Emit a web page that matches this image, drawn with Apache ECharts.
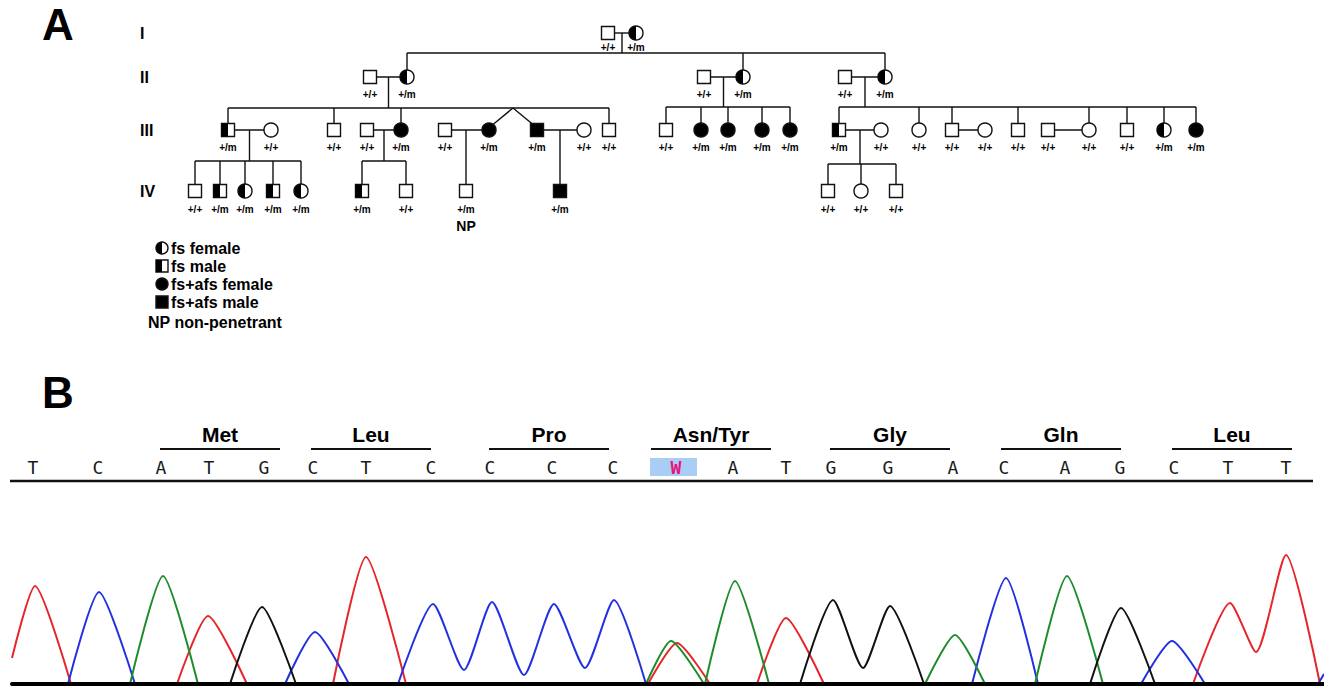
<!DOCTYPE html>
<html><head><meta charset="utf-8">
<script src="https://cdn.jsdelivr.net/npm/echarts@6/dist/echarts.min.js"></script>
<style>html,body{margin:0;padding:0;background:#fff}#c{width:1324px;height:687px}</style>
</head><body><div id="c"></div>
<script>
// ================= Panel A : pedigree =================
const generations = ['I', 'II', 'III', 'IV'];
// id, generation index, sex, status (n = unaffected, fs, afs = fs+afs), genotype
const individuals = [
  ['I-1',0,'M','n','+/+'], ['I-2',0,'F','fs','+/m'],
  ['II-1',1,'M','n','+/+'], ['II-2',1,'F','fs','+/m'],
  ['II-3',1,'M','n','+/+'], ['II-4',1,'F','fs','+/m'],
  ['II-5',1,'M','n','+/+'], ['II-6',1,'F','fs','+/m'],
  ['III-1',2,'M','fs','+/m'], ['III-2',2,'F','n','+/+'], ['III-3',2,'M','n','+/+'],
  ['III-4',2,'M','n','+/+'], ['III-5',2,'F','afs','+/m'], ['III-6',2,'M','n','+/+'],
  ['III-7',2,'F','afs','+/m'], ['III-8',2,'M','afs','+/m'], ['III-9',2,'F','n','+/+'],
  ['III-10',2,'M','n','+/+'], ['III-11',2,'M','n','+/+'], ['III-12',2,'F','afs','+/m'],
  ['III-13',2,'F','afs','+/m'], ['III-14',2,'F','afs','+/m'], ['III-15',2,'F','afs','+/m'],
  ['III-16',2,'M','fs','+/m'], ['III-17',2,'F','n','+/+'], ['III-18',2,'F','n','+/+'],
  ['III-19',2,'M','n','+/+'], ['III-20',2,'F','n','+/+'], ['III-21',2,'M','n','+/+'],
  ['III-22',2,'M','n','+/+'], ['III-23',2,'F','n','+/+'], ['III-24',2,'M','n','+/+'],
  ['III-25',2,'F','fs','+/m'], ['III-26',2,'F','afs','+/m'],
  ['IV-1',3,'M','n','+/+'], ['IV-2',3,'M','fs','+/m'], ['IV-3',3,'F','fs','+/m'],
  ['IV-4',3,'M','fs','+/m'], ['IV-5',3,'F','fs','+/m'], ['IV-6',3,'M','fs','+/m'],
  ['IV-7',3,'M','n','+/+'], ['IV-8',3,'M','n','+/m'], ['IV-9',3,'M','afs','+/m'],
  ['IV-10',3,'M','n','+/+'], ['IV-11',3,'F','n','+/+'], ['IV-12',3,'M','n','+/+']
];
const families = [
  { parents: ['I-1','I-2'], children: ['II-2','II-4','II-6'] },
  { parents: ['II-1','II-2'], children: ['III-1','III-3','III-5','III-7','III-8','III-10'] },
  { parents: ['II-3','II-4'], children: ['III-11','III-12','III-13','III-14','III-15'] },
  { parents: ['II-5','II-6'], children: ['III-16','III-18','III-19','III-21','III-23','III-24','III-25','III-26'] },
  { parents: ['III-1','III-2'], children: ['IV-1','IV-2','IV-3','IV-4','IV-5'] },
  { parents: ['III-4','III-5'], children: ['IV-6','IV-7'] },
  { parents: ['III-6','III-7'], children: ['IV-8'] },
  { parents: ['III-8','III-9'], children: ['IV-9'] },
  { parents: ['III-16','III-17'], children: ['IV-10','IV-11','IV-12'] }
];
const childlessCouples = [['III-19','III-20'], ['III-22','III-23']];
const twinPairs = [['III-7','III-8']];
const notes = { 'IV-8': 'NP' };
const legendItems = [
  ['F','fs','fs female'], ['M','fs','fs male'],
  ['F','afs','fs+afs female'], ['M','afs','fs+afs male']
];
const legendNote = 'NP non-penetrant';

// ================= Panel B : chromatogram =================
const bases = ['T','C','A','T','G','C','T','C','C','C','C','W','A','T','G','G','A','C','A','G','C','T','T'];
const basePos = [33,98,161,209,264,313,366,431,490,552,613,676,733,786,831,888,953,1004,1065,1120,1174,1228,1286];
const codons = ['Met','Leu','Pro','Asn/Tyr','Gly','Gln','Leu'];
const codonCenter = [220,371,549,711,890,1061,1232];
// traces: [scan position, signal]; null = gap between peak groups
const traceT = [[12,26],[35,98],[71,0],null,[177,0],[208,68],[247,0],null,[333,0],[366,127],[406,0],null,
  [648,0],[677,41],[710,0],null,[757,0],[786,66],[824,0],null,[1193,0],[1230,81],[1256,32],[1286,129],[1320,0]];
const traceC = [[68,0],[99,92],[135,0],null,[285,0],[315,52],[349,0],null,
  [398,0],[433,80],[464,14],[492,82],[524,9],[554,80],[585,16],[614,84],[646,0],null,
  [972,0],[1006,106],[1038,0],null,[1141,0],[1172,43],[1205,0],null,[1318,0],[1324,10]];
const traceA = [[130,0],[163,108],[198,0],null,[646,0],[671,43],[704,0],null,[705,0],[735,103],[769,0],null,
  [925,0],[955,49],[985,0],null,[1035,0],[1067,108],[1103,0]];
const traceG = [[230,0],[262,77],[296,0],null,[800,0],[833,84],[863,16],[890,78],[924,0],null,
  [1090,0],[1121,76],[1155,0]];

// ================= layout (positions / styles) =================
const pedX = {
  'I-1':608,'I-2':636,
  'II-1':370,'II-2':407,'II-3':704,'II-4':743,'II-5':845,'II-6':885,
  'III-1':228,'III-2':271,'III-3':334,'III-4':367,'III-5':401,'III-6':445,'III-7':489,'III-8':537,
  'III-9':584,'III-10':609,'III-11':666,'III-12':701,'III-13':728,'III-14':762,'III-15':790,
  'III-16':839,'III-17':881,'III-18':919,'III-19':952,'III-20':985,'III-21':1018,'III-22':1048,
  'III-23':1089,'III-24':1127,'III-25':1164,'III-26':1196,
  'IV-1':195,'IV-2':220,'IV-3':245,'IV-4':273,'IV-5':301,'IV-6':362,'IV-7':406,'IV-8':466,
  'IV-9':560,'IV-10':828,'IV-11':861,'IV-12':896
};
const genY = [33, 77, 130, 191];
const genLabelDy = [14, 17, 17, 18];
const sibLineY = [53, 108, 107, 107, 161, 161, null, null, 164];
const genLabelX = 140;
const legendX = 162, legendTextX = 171, legendY = [248, 266, 284, 302], noteX = 148, noteY = 322;
const SQ = 13, CD = 14, STROKE = '#111', LW = 1.4;
const FONT = '"Liberation Sans", Arial, sans-serif';
const rowCodon = 434, rowBar = 449, rowBase = 467, rowSep = 481;
const colors = { A: '#1f8c2c', C: '#2330e0', G: '#111111', T: '#e4262b' };
const SMOOTH = 0.22;

const indById = {};
individuals.forEach(d => { indById[d[0]] = d; });

function symbolEls(sex, status, cx, cy, s) {
  const h = s / 2, els = [];
  if (sex === 'M') {
    els.push({ type: 'rect', shape: { x: cx - h, y: cy - h, width: s, height: s },
      style: { fill: status === 'afs' ? '#000' : '#fff', stroke: STROKE, lineWidth: LW } });
    if (status === 'fs') els.push({ type: 'rect', shape: { x: cx - h, y: cy - h, width: h, height: s }, style: { fill: '#000' } });
  } else {
    els.push({ type: 'circle', shape: { cx: cx, cy: cy, r: h },
      style: { fill: status === 'afs' ? '#000' : '#fff', stroke: STROKE, lineWidth: LW } });
    if (status === 'fs') els.push({ type: 'sector', shape: { cx: cx, cy: cy, r0: 0, r: h, startAngle: Math.PI / 2, endAngle: Math.PI * 1.5, clockwise: true }, style: { fill: '#000' } });
  }
  return els;
}
function ln(a, b, w) {
  return { type: 'line', shape: { x1: a[0], y1: a[1], x2: b[0], y2: b[1] }, style: { stroke: STROKE, lineWidth: w || LW } };
}
function txt(t, x, y, font, align, fill) {
  return { type: 'text', style: { text: t, x: x, y: y, font: font, align: align || 'center', verticalAlign: 'middle', fill: fill || '#000' } };
}

const chart = echarts.init(document.getElementById('c'), null, { renderer: 'svg', width: 1324, height: 687 });

const option = {
  animation: false,
  backgroundColor: '#fff',
  title: [
    { text: 'A', left: 42, top: 2, padding: 0, textStyle: { fontSize: 44, fontWeight: 'bold', fontFamily: 'Liberation Sans', color: '#000' } },
    { text: 'B', left: 42, top: 370, padding: 0, textStyle: { fontSize: 44, fontWeight: 'bold', fontFamily: 'Liberation Sans', color: '#000' } }
  ],
  grid: [
    { left: 0, top: 0, width: 1324, height: 687 },
    { left: 12, top: 540, width: 1312, height: 144 }
  ],
  xAxis: [
    { type: 'value', gridIndex: 0, min: 0, max: 1324, show: false },
    { type: 'value', gridIndex: 1, min: 12, max: 1324, z: 10,
      axisLine: { show: true, onZero: false, lineStyle: { color: '#000', width: 4 } },
      axisTick: { show: false }, axisLabel: { show: false }, splitLine: { show: false } }
  ],
  yAxis: [
    { type: 'value', gridIndex: 0, min: 0, max: 687, inverse: true, show: false },
    { type: 'value', gridIndex: 1, min: 0, max: 144, show: false }
  ],
  series: [
    // pedigree connecting lines
    {
      type: 'custom', xAxisIndex: 0, yAxisIndex: 0, z: 2, silent: true,
      data: families.map((f, i) => [i]).concat(childlessCouples.map((c, i) => [families.length + i])),
      renderItem: function (params, api) {
        const idx = params.dataIndex;
        const els = [];
        const P = (x, y) => api.coord([x, y]);
        if (idx >= families.length) {
          const c = childlessCouples[idx - families.length];
          const y = genY[indById[c[0]][1]];
          els.push(ln(P(pedX[c[0]], y), P(pedX[c[1]], y)));
          return { type: 'group', children: els };
        }
        const f = families[idx];
        const pa = f.parents[0], pb = f.parents[1];
        const py = genY[indById[pa][1]];
        const mx = (pedX[pa] + pedX[pb]) / 2;
        els.push(ln(P(pedX[pa], py), P(pedX[pb], py)));
        const cy = genY[indById[f.children[0]][1]];
        const top = cy - SQ / 2;
        if (f.children.length === 1) {
          const cx = pedX[f.children[0]];
          els.push(ln(P(cx, py), P(cx, top)));
          return { type: 'group', children: els };
        }
        const sy = sibLineY[idx];
        els.push(ln(P(mx, py), P(mx, sy)));
        const attach = [];
        const done = {};
        f.children.forEach(ch => {
          if (done[ch]) return;
          const tw = twinPairs.find(t => t.indexOf(ch) >= 0);
          if (tw) {
            const ax = (pedX[tw[0]] + pedX[tw[1]]) / 2;
            attach.push(ax);
            tw.forEach(t => {
              done[t] = true;
              const tx = pedX[t];
              const ex = tx + (ax > tx ? 4 : -4);
              els.push(ln(P(ax, sy), P(ex, top + 1)));
            });
          } else {
            done[ch] = true;
            attach.push(pedX[ch]);
            els.push(ln(P(pedX[ch], sy), P(pedX[ch], top)));
          }
        });
        attach.push(mx);
        els.push(ln(P(Math.min.apply(null, attach), sy), P(Math.max.apply(null, attach), sy)));
        return { type: 'group', children: els };
      }
    },
    // pedigree individuals
    {
      type: 'custom', xAxisIndex: 0, yAxisIndex: 0, z: 5, silent: true,
      data: individuals.map(d => [pedX[d[0]], genY[d[1]]]),
      renderItem: function (params, api) {
        const d = individuals[params.dataIndex];
        const p = api.coord([api.value(0), api.value(1)]);
        const els = symbolEls(d[2], d[3], p[0], p[1], d[2] === 'M' ? SQ : CD);
        els.push(txt(d[4], p[0], p[1] + genLabelDy[d[1]], 'bold 10px ' + FONT));
        if (notes[d[0]]) els.push(txt(notes[d[0]], p[0], p[1] + genLabelDy[d[1]] + 17, 'bold 14px ' + FONT));
        return { type: 'group', children: els };
      }
    },
    // generation labels
    {
      type: 'custom', xAxisIndex: 0, yAxisIndex: 0, z: 5, silent: true,
      data: generations.map((g, i) => [genLabelX, genY[i]]),
      renderItem: function (params, api) {
        const p = api.coord([api.value(0), api.value(1)]);
        return txt(generations[params.dataIndex], p[0], p[1], 'bold 16px ' + FONT, 'left');
      }
    },
    // legend
    {
      type: 'custom', xAxisIndex: 0, yAxisIndex: 0, z: 5, silent: true,
      data: legendItems.map((l, i) => [legendX, legendY[i]]).concat([[noteX, noteY]]),
      renderItem: function (params, api) {
        const i = params.dataIndex;
        const p = api.coord([api.value(0), api.value(1)]);
        if (i >= legendItems.length) return txt(legendNote, p[0], p[1], 'bold 16px ' + FONT, 'left');
        const l = legendItems[i];
        const els = symbolEls(l[0], l[1], p[0], p[1], 12);
        els.push(txt(l[2], p[0] + (legendTextX - legendX), p[1], 'bold 16px ' + FONT, 'left'));
        return { type: 'group', children: els };
      }
    },
    // base calls
    {
      type: 'custom', xAxisIndex: 0, yAxisIndex: 0, z: 5, silent: true,
      data: bases.map((b, i) => [basePos[i], rowBase]),
      renderItem: function (params, api) {
        const b = bases[params.dataIndex];
        const p = api.coord([api.value(0), api.value(1)]);
        const els = [];
        if (b === 'W') {
          els.push({ type: 'rect', shape: { x: p[0] - 26, y: p[1] - 9, width: 47, height: 18 }, style: { fill: '#aacdf5' } });
          els.push(txt(b, p[0], p[1], 'bold 18px "DejaVu Sans Mono", monospace', 'center', '#e6177b'));
        } else {
          els.push(txt(b, p[0], p[1], '18px "DejaVu Sans Mono", monospace', 'center', '#1a1a1a'));
        }
        return { type: 'group', children: els };
      }
    },
    // codons
    {
      type: 'custom', xAxisIndex: 0, yAxisIndex: 0, z: 5, silent: true,
      data: codons.map((c, i) => [codonCenter[i], rowCodon]),
      renderItem: function (params, api) {
        const c = codons[params.dataIndex];
        const p = api.coord([api.value(0), api.value(1)]);
        const b1 = api.coord([api.value(0) - 60, rowBar]);
        const b2 = api.coord([api.value(0) + 60, rowBar]);
        return { type: 'group', children: [
          txt(c, p[0], p[1], 'bold 21px ' + FONT),
          ln(b1, b2, 2.2)
        ] };
      }
    },
    // separator under base calls
    {
      type: 'custom', xAxisIndex: 0, yAxisIndex: 0, z: 5, silent: true,
      data: [[basePos[0] - 23, rowSep, basePos[basePos.length - 1] + 27]],
      renderItem: function (params, api) {
        return ln(api.coord([api.value(0), api.value(1)]), api.coord([api.value(2), api.value(1)]), 2.6);
      }
    },
    // traces
    { name: 'T', type: 'line', xAxisIndex: 1, yAxisIndex: 1, data: traceT, showSymbol: false, smooth: SMOOTH, connectNulls: false, lineStyle: { color: colors.T, width: 2 }, z: 3, silent: true },
    { name: 'C', type: 'line', xAxisIndex: 1, yAxisIndex: 1, data: traceC, showSymbol: false, smooth: SMOOTH, connectNulls: false, lineStyle: { color: colors.C, width: 2 }, z: 3, silent: true },
    { name: 'A', type: 'line', xAxisIndex: 1, yAxisIndex: 1, data: traceA, showSymbol: false, smooth: SMOOTH, connectNulls: false, lineStyle: { color: colors.A, width: 2 }, z: 3, silent: true },
    { name: 'G', type: 'line', xAxisIndex: 1, yAxisIndex: 1, data: traceG, showSymbol: false, smooth: SMOOTH, connectNulls: false, lineStyle: { color: colors.G, width: 2 }, z: 3, silent: true }
  ]
};
chart.setOption(option);
</script>
</body></html>
